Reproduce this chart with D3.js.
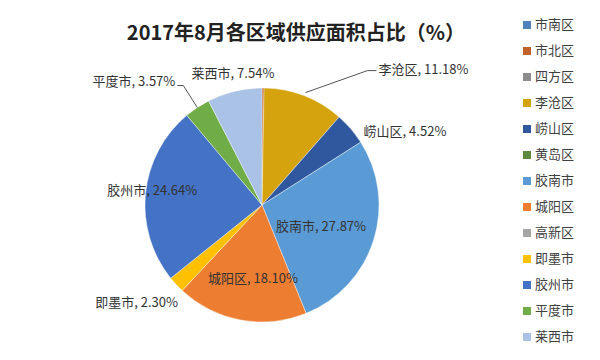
<!DOCTYPE html>
<html><head><meta charset="utf-8">
<script src="https://cdn.jsdelivr.net/npm/d3@7"></script>
<style>
html,body{margin:0;padding:0;background:#fff;}
svg{display:block;font-family:"Noto Sans CJK SC","Microsoft YaHei",sans-serif;}
</style></head>
<body><svg id="c" width="600" height="360"></svg>
<script>
const categories = ["市南区","市北区","四方区","李沧区","崂山区","黄岛区","胶南市","城阳区","高新区","即墨市","胶州市","平度市","莱西市"];
const values = [0, 0.28, 0, 11.18, 4.52, 0, 27.87, 18.10, 0, 2.30, 24.64, 3.57, 7.54];
const valueLabels = ["", "", "", "11.18%", "4.52%", "", "27.87%", "18.10%", "", "2.30%", "24.64%", "3.57%", "7.54%"];
const colors = ["#4F81BD","#C0622A","#8C8C8C","#D4A30E","#30589E","#5E8A3E","#5B9BD5","#ED7D31","#A5A5A5","#FFC000","#4472C4","#70AD47","#A9C2E6"];
const title = "2017年8月各区域供应面积占比（%）";

// label layout (style/position config, separate from data)
const labelLayout = {
  "李沧区": {r:1.03, leader:[[62,-22],[71,-22]], dx:73, dy:-22, anchor:"start"},
  "崂山区": {r:1.11, dx:3, dy:12, anchor:"start"},
  "胶南市": {r:0.53, dx:0, dy:4, anchor:"middle"},
  "城阳区": {r:0.66, dx:5, dy:-1, anchor:"middle"},
  "即墨市": {r:1.12, dx:12, dy:9, anchor:"end"},
  "胶州市": {r:0.9, dx:-5, dy:-3, anchor:"middle"},
  "平度市": {r:1.0, leader:[[-14,-22],[-20,-22]], dx:-22, dy:-25, anchor:"end"},
  "莱西市": {r:1.13, dx:2, dy:-2, anchor:"middle"}
};

const svg = d3.select("#c");
const cx = 262, cy = 205, R = 117;

svg.append("text").attr("x", 296).attr("y", 40).attr("text-anchor","middle")
  .attr("font-size", 20).attr("font-weight","bold").attr("fill","#222").text(title);

const data = categories.map((c,i)=>({name:c, value:values[i], label:valueLabels[i], color:colors[i]}));
const pie = d3.pie().value(d=>d.value).sort(null);
const arcs = pie(data);
const arc = d3.arc().innerRadius(0).outerRadius(R);

const g = svg.append("g").attr("transform", `translate(${cx},${cy})`);
g.selectAll("path").data(arcs.filter(a=>a.data.value>0)).join("path")
  .attr("d", arc).attr("fill", d=>d.data.color)
  .attr("stroke", "#fff").attr("stroke-width", 0.4);

const pt = (ang, r) => [Math.sin(ang)*r, -Math.cos(ang)*r];

arcs.forEach(a=>{
  const L = labelLayout[a.data.name];
  if(!L || !a.data.label) return;
  const mid = (a.startAngle + a.endAngle)/2;
  const [bx, by] = pt(mid, R*L.r);
  if(L.leader){
    const pts = [[bx,by]].concat(L.leader.map(p=>[bx+p[0], by+p[1]]));
    g.append("path").attr("d", d3.line()(pts)).attr("fill","none")
      .attr("stroke","#404040").attr("stroke-width",0.9);
  }
  g.append("text").attr("x", bx + L.dx).attr("y", by + L.dy)
    .attr("text-anchor", L.anchor).attr("dominant-baseline","middle")
    .attr("font-size", 13).attr("fill","#333")
    .text(a.data.name + ", " + a.data.label);
});

// legend
const leg = svg.append("g").attr("transform","translate(523,25)");
const step = 26;
const items = leg.selectAll("g").data(data).join("g")
  .attr("transform",(d,i)=>`translate(0,${i*step})`);
items.append("rect").attr("x",0).attr("y",-4).attr("width",8).attr("height",8).attr("fill",d=>d.color);
items.append("text").attr("x",12).attr("y",0).attr("dominant-baseline","middle")
  .attr("font-size",13).attr("fill","#404040").text(d=>d.name);
</script>
</body></html>
